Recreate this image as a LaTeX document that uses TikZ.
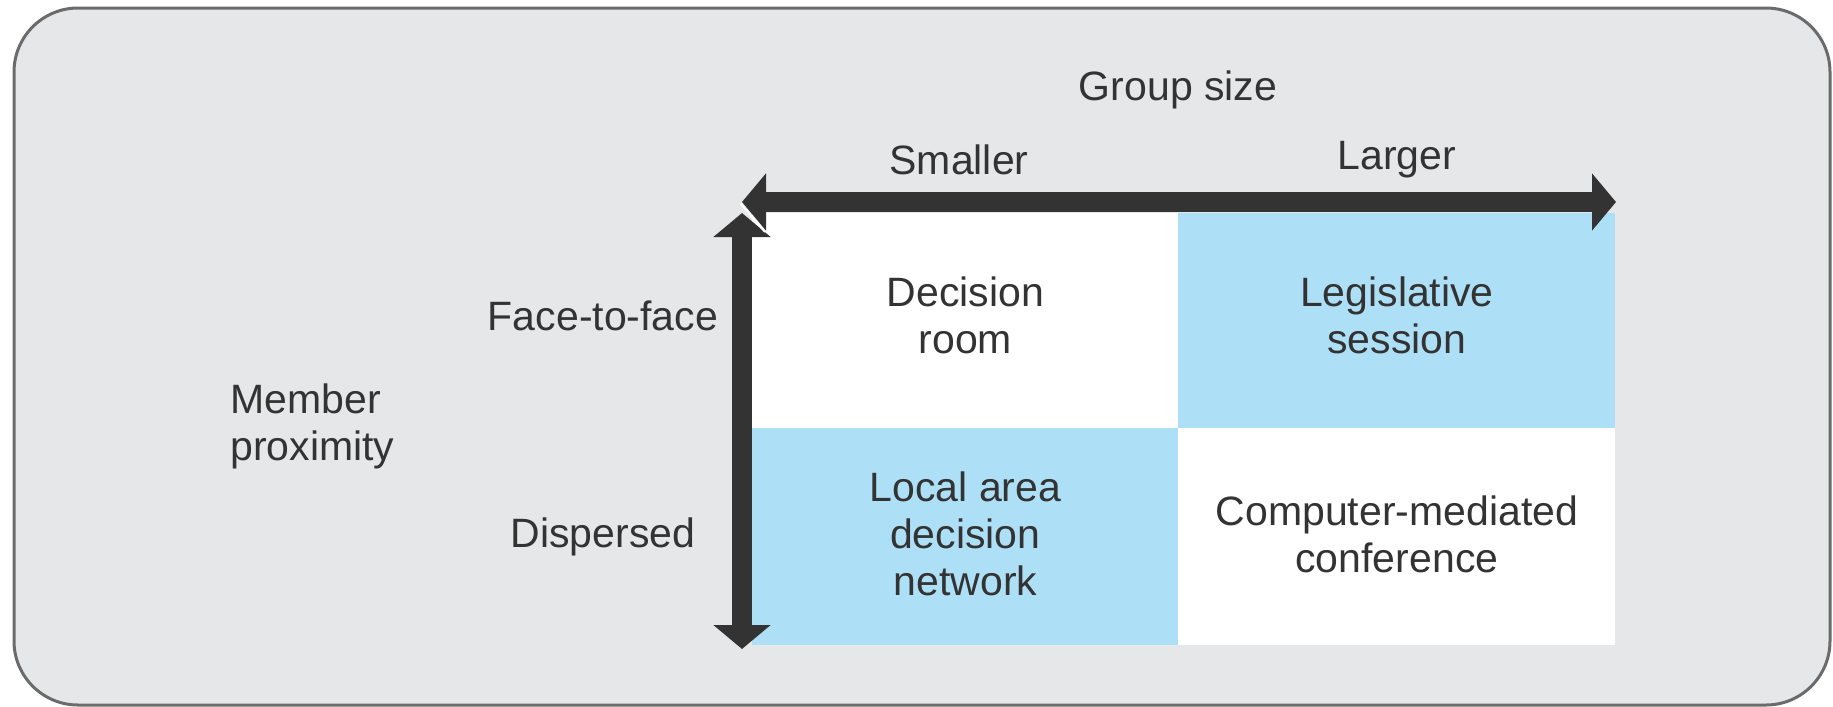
\documentclass[tikz,border=0pt]{standalone}
\usepackage{fontspec}
\setmainfont{Liberation Sans}
\usetikzlibrary{arrows.meta}
\definecolor{panel}{HTML}{E6E7E8}
\definecolor{cellblue}{HTML}{ADE0F7}
\definecolor{ink}{HTML}{333333}
\definecolor{frame}{HTML}{6B6B6B}
\tikzset{
  txt/.style={text=ink, font=\fontsize{20.5}{23.5}\selectfont, inner sep=0pt, align=center},
  cell/.style={draw=none, minimum width=#1*0.5pt, minimum height=108.5pt, inner sep=0pt, anchor=north west},
  bothaxis/.style={draw=ink, line width=10pt, {Triangle[length=12pt,width=28pt]}-{Triangle[length=12pt,width=28pt]}},
}
\begin{document}
\begin{tikzpicture}[x=0.5pt, y=-0.5pt]
\useasboundingbox (0,0) rectangle (1833,707);
% panel
\draw[fill=panel, draw=frame, line width=1.5pt, rounded corners=32pt] (14,8) rectangle (1830,705);
% cells
\node[cell=426, fill=white] (tl) at (752,213) {};
\node[cell=437, fill=cellblue] (tr) at (1178,213) {};
\node[cell=426, fill=cellblue] (bl) at (752,428) {};
\node[cell=437, fill=white] (br) at (1178,428) {};
\node[txt] at ([yshift=3.5pt]tl.center) {Decision\\room};
\node[txt] at ([yshift=3.5pt]tr.center) {Legislative\\session};
\node[txt] at ([yshift=1.5pt]bl.center) {Local area\\decision\\network};
\node[txt] at ([yshift=1.5pt]br.center) {Computer-mediated\\conference};
% axes
\coordinate (vtop) at (742,213);
\coordinate (vbot) at (742,649);
\coordinate (hl) at (742,202);
\coordinate (hr) at (1616,202);
\draw[bothaxis] (vbot) -- (vtop);
\draw[white, line width=1pt] (740.5,203.5) -- (765,232);
\draw[bothaxis] (hl) -- (hr);
% labels
\node[txt] (gs) at (1178,90) {Group size};
\node[txt] (sm) at (959,160) {Smaller};
\node[txt] (lg) at (1397,160) {Larger};
\node[txt] (ff) at (603,316) {Face-to-face};
\node[txt] (dp) at (603,537) {Dispersed};
\node[txt, align=left, anchor=west] (mp) at (230,426) {Member\\proximity};
\end{tikzpicture}
\end{document}
